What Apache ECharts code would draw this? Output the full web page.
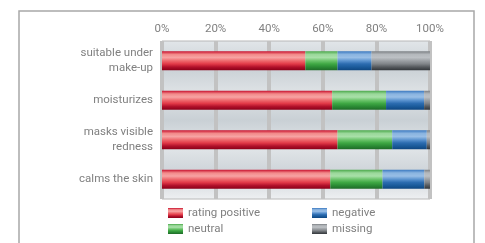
<!DOCTYPE html>
<html>
<head>
<meta charset="utf-8">
<script src="https://cdn.jsdelivr.net/npm/echarts@6/dist/echarts.min.js"></script>
<style>
  html, body { margin: 0; padding: 0; background: #fff; }
  #chart { width: 485px; height: 243px; }
</style>
</head>
<body>
<div id="chart"></div>
<script>
// categories top to bottom
var categories = ['suitable under\nmake-up', 'moisturizes', 'masks visible\nredness', 'calms the skin'];

// shares in percent
var positive = [53.5, 63.5, 65.5, 62.8];
var neutral  = [12.0, 20.1, 20.4, 19.5];
var negative = [12.7, 14.2, 12.9, 15.6];
var missing  = [21.8, 2.2, 1.2, 2.1];

var xTicks = [0, 20, 40, 60, 80, 100];

function grad(stops) {
    return new echarts.graphic.LinearGradient(0, 0, 0, 1, stops.map(function(c, i) {
        return {offset: i / (stops.length - 1), color: c};
    }));
}

var redFill   = grad(['#c8102e', '#f28a8a', '#f7a3a3', '#ee6a6e', '#e23a48', '#b0102a', '#8a0018']);
var greenFill = grad(['#4aa84a', '#9ad89a', '#a8e0a8', '#6cc46c', '#3fa844', '#2a8a34', '#1f6a28']);
var blueFill  = grad(['#3a78c0', '#8ab4e0', '#98bee6', '#5c94d0', '#2c6cb0', '#1a5a9a', '#0f4680']);
var grayFill  = grad(['#7c8084', '#b4b8bc', '#bcc0c4', '#9ca0a4', '#808488', '#55595d', '#33373b']);

var dom = document.getElementById('chart');
var myChart = echarts.init(dom, null, {renderer: 'canvas'});

var textColor = '#808080';
var font = 'Roboto';
var fs = 11.5;

function bar(name, data, fill) {
    return {
        name: name,
        type: 'bar',
        stack: 'all',
        barWidth: 19,
        data: data,
        itemStyle: {color: fill},
        emphasis: {disabled: true}
    };
}

var option = {
    animation: false,
    textStyle: {fontFamily: font},
    graphic: [{
        type: 'rect',
        shape: {x: 19, y: 11, width: 455, height: 250},
        style: {fill: 'none', stroke: '#a8a8a8', lineWidth: 1.5},
        z: -10
    }],
    grid: {
        left: 162, right: 55, top: 41, bottom: 44,
        show: true,
        backgroundColor: grad(['#e2e6e9', '#c9d0d5', '#dfe3e6', '#c9d0d5', '#e2e6e9', '#cdd3d8', '#eef0f2']),
        borderColor: '#b8b8b8',
        borderWidth: 1
    },
    legend: [{
        data: ['rating positive', 'neutral'],
        orient: 'vertical',
        left: 168, top: 207, padding: 0,
        itemWidth: 15, itemHeight: 10, itemGap: 4,
        textStyle: {color: textColor, fontSize: fs, fontFamily: font},
        icon: 'rect'
    }, {
        data: ['negative', 'missing'],
        orient: 'vertical',
        left: 312, top: 207, padding: 0,
        itemWidth: 15, itemHeight: 10, itemGap: 4,
        textStyle: {color: textColor, fontSize: fs, fontFamily: font},
        icon: 'rect'
    }],
    xAxis: {
        type: 'value',
        position: 'top',
        min: 0, max: 100, interval: 20,
        axisLine: {show: false},
        axisTick: {show: false},
        axisLabel: {
            color: textColor, fontSize: fs, margin: 6, fontFamily: font,
            formatter: function(v) { return xTicks.indexOf(v) >= 0 ? v + '%' : ''; }
        },
        splitLine: {lineStyle: {color: '#c2c2c2', width: 4}}
    },
    yAxis: {
        type: 'category',
        inverse: true,
        data: categories,
        axisLine: {show: false},
        axisTick: {show: false},
        axisLabel: {color: textColor, fontSize: fs, margin: 9, lineHeight: 15, align: 'right', fontFamily: font}
    },
    series: [
        bar('rating positive', positive, redFill),
        bar('neutral', neutral, greenFill),
        bar('negative', negative, blueFill),
        bar('missing', missing, grayFill)
    ]
};

myChart.setOption(option, true);
</script>
</body>
</html>
